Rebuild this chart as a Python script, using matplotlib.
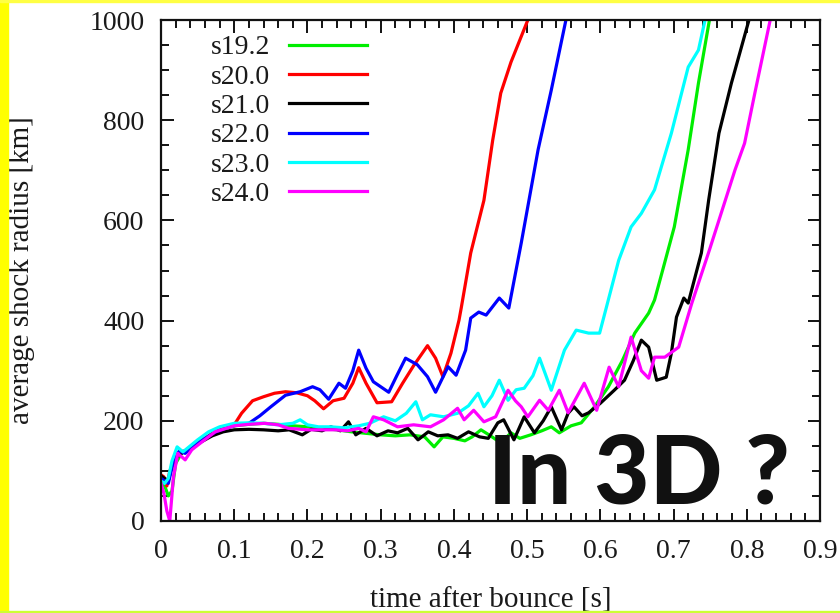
import matplotlib
matplotlib.use('Agg')
import matplotlib.pyplot as plt
from matplotlib.patches import Rectangle

# shock radius curves (time [s], radius [km])
t_s192 = [0, 0.005, 0.01, 0.015, 0.02, 0.028, 0.04, 0.055, 0.07, 0.085, 0.1, 0.12, 0.14, 0.16, 0.18, 0.2,
          0.22, 0.24, 0.26, 0.28, 0.3, 0.32, 0.34, 0.36, 0.373, 0.385, 0.4, 0.415, 0.425, 0.437, 0.45, 0.464,
          0.478, 0.49, 0.505, 0.52, 0.533, 0.544, 0.56, 0.574, 0.592, 0.611, 0.63, 0.647, 0.666, 0.674, 0.685,
          0.701, 0.72, 0.734, 0.749]
r_s192 = [75, 70, 50, 60, 115, 135, 145, 160, 175, 185, 190, 193, 195, 193, 190, 188,
          185, 182, 178, 175, 172, 170, 172, 168, 148, 168, 165, 160, 168, 182, 170, 156,
          176, 165, 172, 180, 188, 176, 190, 196, 228, 268, 320, 375, 415, 441, 500,
          587, 741, 874, 1000]

t_s200 = [0, 0.004, 0.008, 0.012, 0.018, 0.025, 0.033, 0.045, 0.06, 0.075, 0.09, 0.1, 0.11, 0.125, 0.14,
          0.155, 0.17, 0.185, 0.2, 0.21, 0.222, 0.235, 0.25, 0.262, 0.27, 0.28, 0.295, 0.315, 0.33, 0.345,
          0.364, 0.375, 0.385, 0.396, 0.407, 0.41, 0.423, 0.441, 0.453, 0.464, 0.478, 0.501]
r_s200 = [92, 88, 70, 100, 120, 138, 140, 152, 165, 178, 186, 192, 215, 240, 248,
          255, 258, 256, 250, 240, 224, 240, 245, 275, 306, 275, 236, 238, 275, 310,
          350, 325, 288, 335, 401, 425, 535, 640, 760, 854, 916, 1000]

t_s210 = [0, 0.005, 0.01, 0.015, 0.02, 0.028, 0.04, 0.055, 0.07, 0.085, 0.1, 0.12, 0.14, 0.16, 0.175,
          0.193, 0.205, 0.22, 0.232, 0.245, 0.256, 0.266, 0.28, 0.295, 0.31, 0.323, 0.337, 0.351, 0.365,
          0.378, 0.392, 0.405, 0.42, 0.435, 0.447, 0.46, 0.468, 0.482, 0.496, 0.51, 0.522, 0.533, 0.547,
          0.556, 0.564, 0.575, 0.584, 0.6, 0.619, 0.633, 0.645, 0.656, 0.666, 0.677, 0.69, 0.697, 0.704,
          0.714, 0.72, 0.738, 0.748, 0.762, 0.779, 0.803]
r_s210 = [90, 85, 80, 110, 125, 135, 145, 158, 170, 178, 182, 183, 182, 180, 182,
          172, 183, 180, 188, 180, 198, 172, 185, 170, 180, 176, 185, 162, 178,
          170, 172, 165, 178, 168, 165, 196, 202, 162, 208, 176, 200, 228, 182,
          215, 228, 210, 216, 235, 261, 281, 320, 361, 347, 281, 287, 335, 407,
          445, 435, 535, 641, 774, 874, 1000]

t_s220 = [0, 0.005, 0.01, 0.017, 0.025, 0.033, 0.045, 0.06, 0.075, 0.09, 0.105, 0.12, 0.135, 0.15, 0.17,
          0.19, 0.207, 0.217, 0.229, 0.243, 0.252, 0.262, 0.27, 0.28, 0.29, 0.311, 0.322, 0.334, 0.35,
          0.364, 0.375, 0.392, 0.403, 0.416, 0.423, 0.434, 0.444, 0.462, 0.475, 0.492, 0.515, 0.533, 0.553]
r_s220 = [85, 80, 75, 120, 140, 135, 150, 165, 178, 186, 192, 195, 210, 228, 251,
          258, 268, 262, 243, 275, 265, 300, 341, 305, 278, 257, 290, 325, 312,
          288, 257, 308, 291, 341, 405, 417, 411, 445, 425, 555, 741, 860, 1000]

t_s230 = [0, 0.005, 0.01, 0.015, 0.022, 0.03, 0.04, 0.05, 0.065, 0.08, 0.1, 0.12, 0.14, 0.16, 0.18,
          0.19, 0.2, 0.215, 0.232, 0.25, 0.27, 0.285, 0.304, 0.32, 0.335, 0.348, 0.357, 0.368, 0.386,
          0.405, 0.42, 0.433, 0.441, 0.452, 0.462, 0.474, 0.485, 0.496, 0.508, 0.517, 0.533, 0.551, 0.567,
          0.584, 0.599, 0.608, 0.625, 0.642, 0.656, 0.674, 0.697, 0.72, 0.734, 0.743]
r_s230 = [80, 75, 85, 120, 148, 138, 150, 162, 178, 188, 195, 196, 195, 192, 195,
          202, 192, 188, 188, 186, 190, 195, 208, 200, 215, 238, 202, 212, 208,
          215, 230, 255, 228, 250, 281, 241, 262, 265, 290, 325, 261, 341, 381,
          375, 375, 425, 520, 587, 614, 661, 774, 906, 940, 1000]

t_s240 = [0, 0.004, 0.008, 0.012, 0.017, 0.023, 0.033, 0.042, 0.056, 0.074, 0.1, 0.12, 0.142, 0.16, 0.174,
          0.2, 0.22, 0.238, 0.255, 0.27, 0.28, 0.29, 0.304, 0.323, 0.345, 0.368, 0.386, 0.405, 0.414, 0.427,
          0.441, 0.457, 0.474, 0.484, 0.492, 0.501, 0.517, 0.529, 0.544, 0.556, 0.578, 0.595, 0.612, 0.625,
          0.642, 0.656, 0.666, 0.674, 0.688, 0.707, 0.725, 0.749, 0.784, 0.797, 0.811, 0.832]
r_s240 = [75, 55, 20, 0, 88, 135, 122, 142, 158, 178, 190, 193, 195, 192, 185,
          182, 182, 182, 180, 185, 178, 208, 202, 188, 192, 188, 202, 225, 202, 221,
          198, 208, 261, 240, 228, 208, 241, 221, 261, 216, 275, 221, 307, 268,
          367, 300, 285, 327, 327, 347, 435, 541, 701, 754, 854, 1000]

labels = ['s19.2', 's20.0', 's21.0', 's22.0', 's23.0', 's24.0']
colors = ['#00ee00', '#ff0000', '#000000', '#0000ff', '#00ffff', '#ff00ff']
times = [t_s192, t_s200, t_s210, t_s220, t_s230, t_s240]
radii = [r_s192, r_s200, r_s210, r_s220, r_s230, r_s240]

serif = ['Liberation Serif', 'DejaVu Serif']

fig = plt.figure(figsize=(8.4, 6.13), dpi=100)
ax = fig.add_axes([161 / 840, 92 / 613, 659 / 840, 501 / 613])

for t, r, c, lab in zip(times, radii, colors, labels):
    ax.plot(t, r, color=c, lw=2.3, label=lab, solid_joinstyle='round')

ax.set_xlim(0, 0.9)
ax.set_ylim(0, 1000)
ax.set_xticks([0, 0.1, 0.2, 0.3, 0.4, 0.5, 0.6, 0.7, 0.8, 0.9])
ax.set_xticklabels(['0', '0.1', '0.2', '0.3', '0.4', '0.5', '0.6', '0.7', '0.8', '0.9'])
ax.set_xticks([i * 0.02 for i in range(46)], minor=True)
ax.set_yticks([0, 200, 400, 600, 800, 1000])
ax.set_yticks(list(range(0, 1001, 50)), minor=True)
ax.tick_params(which='both', direction='in', top=True, right=True, width=1.4, color='#111111')
ax.tick_params(which='major', length=9)
ax.tick_params(which='minor', length=5.5)
ax.tick_params(axis='y', which='major', pad=12)
ax.tick_params(axis='x', which='major', pad=13)
for lab in ax.get_xticklabels() + ax.get_yticklabels():
    lab.set_family(serif)
    lab.set_fontsize(20)
    lab.set_color('#1a1a1a')
for sp in ax.spines.values():
    sp.set_linewidth(1.6)
    sp.set_color('#111111')

ax.set_xlabel('time after bounce [s]', family=serif, fontsize=21, color='#1a1a1a', labelpad=17)
ax.set_ylabel('average shock radius [km]', family=serif, fontsize=21, color='#1a1a1a', labelpad=39)

leg = ax.legend(loc='upper left', bbox_to_anchor=(0.037, 1.02), frameon=False, markerfirst=False,
                handlelength=2.8, handletextpad=0.7, labelspacing=0.14,
                prop={'family': serif, 'size': 20})
for txt in leg.get_texts():
    txt.set_color('#1a1a1a')

fig.text(488 / 840, 1 - 503 / 613, 'In 3D ?', family=['Lato', 'DejaVu Sans'], fontweight='black',
         fontsize=69, color='#111111', ha='left', va='baseline')

# frame strips of the slide
fig.patches.append(Rectangle((0, 0), 8 / 840, 1, transform=fig.transFigure, color='#ffff00', zorder=0))
fig.patches.append(Rectangle((0, 1 - 2 / 613), 1, 2 / 613, transform=fig.transFigure, color='#ffff44', zorder=0))
fig.patches.append(Rectangle((0, 0), 1, 2 / 613, transform=fig.transFigure, color='#ccff33', zorder=0))

fig.savefig('out.png', dpi=100)
